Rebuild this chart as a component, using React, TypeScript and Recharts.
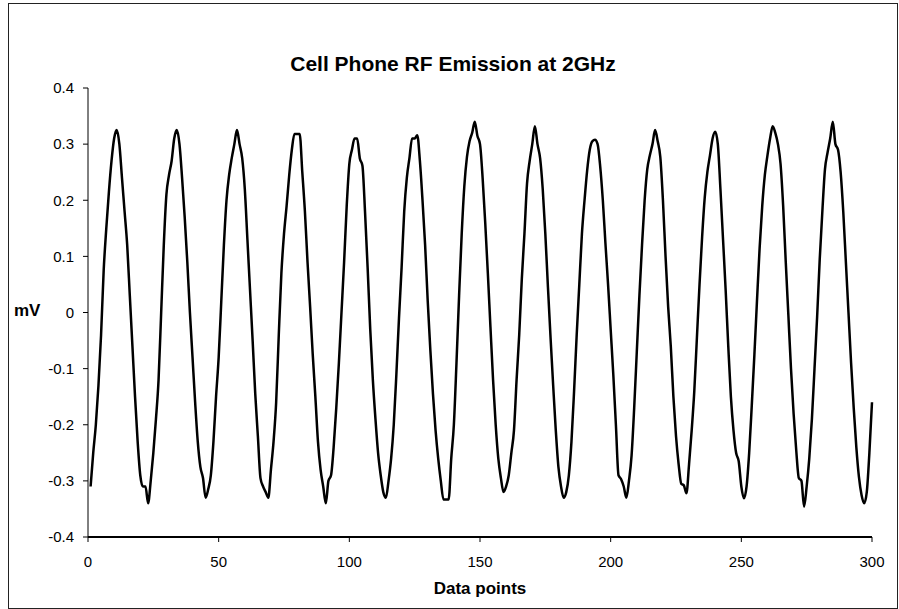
import React from 'react';
import { LineChart, Line, XAxis, YAxis } from 'recharts';

// readings in mV, one per data point (1..300)
const mvValues = [
  -0.31, -0.25, -0.2, -0.13, -0.04, 0.075, 0.15, 0.215, 0.27, 0.31,
  0.325, 0.3, 0.24, 0.18, 0.12, 0.03, -0.06, -0.15, -0.23, -0.29,
  -0.31, -0.31, -0.34, -0.3, -0.25, -0.19, -0.12, 0.0, 0.12, 0.21,
  0.245, 0.27, 0.31, 0.325, 0.3, 0.24, 0.17, 0.09, 0.0, -0.08,
  -0.16, -0.23, -0.275, -0.295, -0.33, -0.315, -0.29, -0.23, -0.15, -0.08,
  0.02, 0.12, 0.2, 0.245, 0.275, 0.3, 0.325, 0.3, 0.275, 0.22,
  0.13, 0.04, -0.05, -0.145, -0.22, -0.295, -0.31, -0.32, -0.33, -0.28,
  -0.23, -0.16, -0.04, 0.07, 0.14, 0.19, 0.245, 0.29, 0.318, 0.318,
  0.318, 0.25, 0.18, 0.09, 0.01, -0.075, -0.15, -0.23, -0.28, -0.31,
  -0.34, -0.3, -0.29, -0.24, -0.17, -0.09, 0.0, 0.09, 0.19, 0.265,
  0.29, 0.31, 0.31, 0.275, 0.262, 0.18, 0.08, -0.03, -0.12, -0.19,
  -0.25, -0.29, -0.32, -0.33, -0.3, -0.26, -0.2, -0.11, -0.01, 0.08,
  0.18, 0.24, 0.275, 0.31, 0.31, 0.316, 0.27, 0.2, 0.12, 0.02,
  -0.067, -0.145, -0.21, -0.26, -0.3, -0.333, -0.333, -0.333, -0.26, -0.2,
  -0.09, 0.03, 0.14, 0.225, 0.277, 0.305, 0.32, 0.34, 0.315, 0.3,
  0.24, 0.16, 0.07, -0.026, -0.12, -0.2, -0.26, -0.295, -0.32, -0.31,
  -0.29, -0.25, -0.21, -0.12, -0.04, 0.06, 0.14, 0.23, 0.27, 0.3,
  0.332, 0.3, 0.275, 0.22, 0.14, 0.045, -0.045, -0.13, -0.21, -0.275,
  -0.31, -0.33, -0.32, -0.29, -0.23, -0.14, -0.04, 0.05, 0.14, 0.2,
  0.253, 0.29, 0.305, 0.308, 0.3, 0.26, 0.2, 0.123, 0.05, -0.03,
  -0.11, -0.2, -0.29, -0.297, -0.31, -0.33, -0.3, -0.255, -0.17, -0.07,
  0.03, 0.12, 0.2, 0.255, 0.28, 0.3, 0.325, 0.305, 0.277, 0.2,
  0.1, 0.01, -0.06, -0.15, -0.22, -0.27, -0.305, -0.308, -0.322, -0.27,
  -0.21, -0.14, -0.045, 0.05, 0.135, 0.205, 0.25, 0.28, 0.31, 0.322,
  0.3, 0.22, 0.13, 0.04, -0.06, -0.15, -0.21, -0.25, -0.265, -0.31,
  -0.331, -0.31, -0.25, -0.165, -0.075, 0.022, 0.115, 0.19, 0.245, 0.28,
  0.31, 0.332, 0.32, 0.3, 0.265, 0.19, 0.09, -0.005, -0.1, -0.18,
  -0.245, -0.295, -0.3, -0.346, -0.31, -0.26, -0.19, -0.1, -0.008, 0.095,
  0.18, 0.255, 0.285, 0.31, 0.34, 0.3, 0.29, 0.25, 0.18, 0.09,
  0.0, -0.09, -0.17, -0.24, -0.293, -0.325, -0.34, -0.32, -0.25, -0.16,
];

const xTicks = [0, 50, 100, 150, 200, 250, 300];
const yTicks = [-0.4, -0.3, -0.2, -0.1, 0, 0.1, 0.2, 0.3, 0.4];

const data = mvValues.map((mv, i) => ({ point: i + 1, mv }));

const font = '"Liberation Sans", Arial, sans-serif';
const tickStyle = { fill: '#000', fontSize: 15, fontFamily: font };

export default function App() {
  return (
    <div style={{ position: 'absolute', left: 0, top: 0, width: 899, height: 609, background: '#fff', fontFamily: font }}>
      <div style={{ position: 'absolute', left: 8, top: 3, width: 888, height: 604, border: '1px solid #222' }} />
      <div style={{ position: 'absolute', left: 0, width: 906, top: 52, textAlign: 'center', fontSize: 21, fontWeight: 'bold' }}>
        Cell Phone RF Emission at 2GHz
      </div>
      <div style={{ position: 'absolute', left: 14, top: 301, fontSize: 17, fontWeight: 'bold' }}>mV</div>
      <div style={{ position: 'absolute', left: 88, width: 784, top: 579, textAlign: 'center', fontSize: 17, fontWeight: 'bold' }}>
        Data points
      </div>
      <div style={{ position: 'absolute', left: 0, top: 0 }}>
        <LineChart width={899} height={609} data={data} margin={{ top: 88, right: 27, bottom: 42, left: 28 }}>
          <XAxis
            dataKey="point"
            type="number"
            domain={[0, 300]}
            ticks={xTicks}
            height={30}
            tickSize={5}
            tickMargin={14}
            tick={tickStyle}
            axisLine={{ stroke: '#000', strokeWidth: 2 }}
            tickLine={{ stroke: '#000' }}
          />
          <XAxis
            xAxisId="top"
            orientation="top"
            type="number"
            domain={[0, 300]}
            height={0}
            tick={false}
            tickLine={false}
            axisLine={{ stroke: '#808080' }}
          />
          <YAxis
            type="number"
            domain={[-0.4, 0.4]}
            ticks={yTicks}
            width={60}
            tickSize={5}
            tickMargin={9}
            tick={tickStyle}
            tickFormatter={(v: number) => String(Math.round(v * 10) / 10)}
            axisLine={{ stroke: '#000' }}
            tickLine={{ stroke: '#000' }}
          />
          <YAxis
            yAxisId="right"
            orientation="right"
            type="number"
            domain={[-0.4, 0.4]}
            width={0}
            tick={false}
            tickLine={false}
            axisLine={{ stroke: '#808080' }}
          />
          <Line
            type="monotone"
            dataKey="mv"
            stroke="#000"
            strokeWidth={2.5}
            dot={false}
            isAnimationActive={false}
          />
        </LineChart>
      </div>
    </div>
  );
}
